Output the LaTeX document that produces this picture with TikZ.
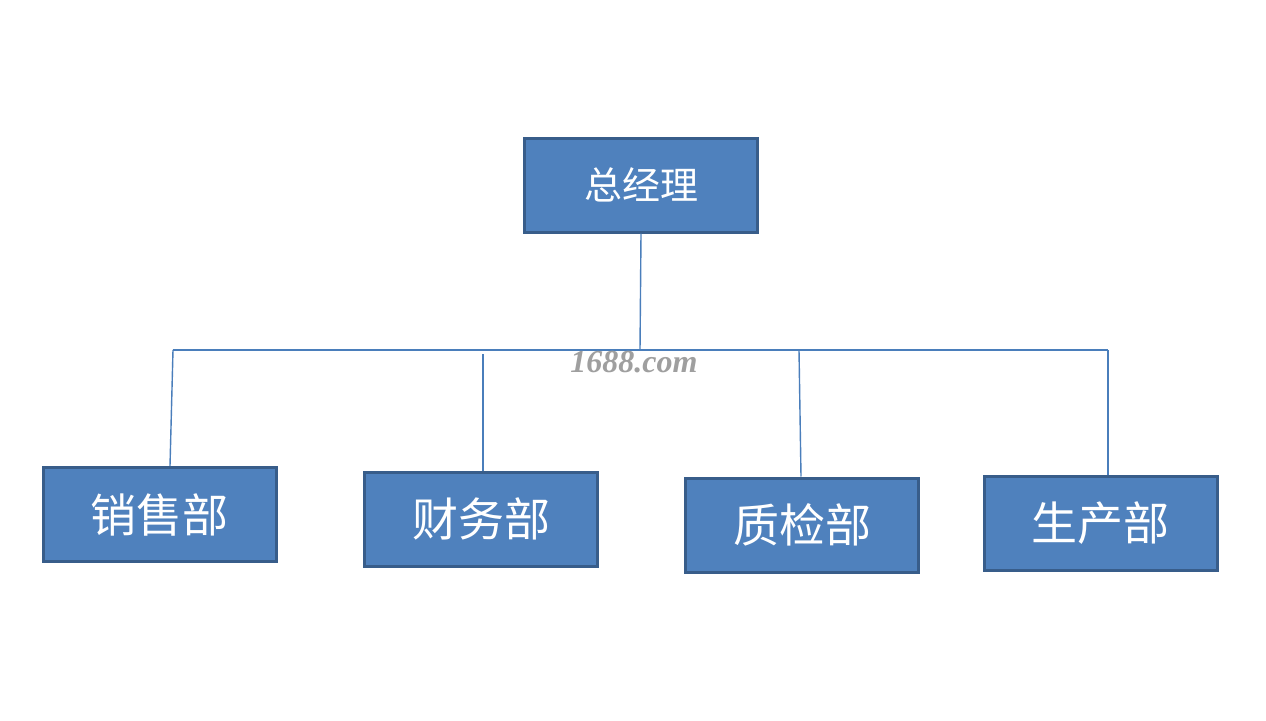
\documentclass[tikz,border=0pt]{standalone}
\usepackage{fontspec}
\newfontfamily\cjk{Noto Sans CJK SC}
\newfontfamily\wm{Liberation Serif}
\definecolor{boxfill}{HTML}{4F81BD}
\definecolor{boxline}{HTML}{385D8A}
\definecolor{conn}{HTML}{4A7EBB}
\begin{document}
\begin{tikzpicture}[x=1pt,y=-1pt,
  orgbox/.style={draw=boxline,line width=3pt,fill=boxfill,minimum width=233pt,minimum height=94pt,inner sep=0pt,text=white,font=\cjk\fontsize{46}{50}\selectfont},
  topbox/.style={orgbox,font=\cjk\fontsize{38}{42}\selectfont},
  link/.style={draw=conn,line width=1.4pt}]
\fill[white] (0,0) rectangle (1266,720);
\useasboundingbox (0,0) rectangle (1266,720);
\node[topbox] (gm) at (641,185) {总经理};
\node[orgbox] (xs) at (159.5,514.5) {销售部};
\node[orgbox] (cw) at (481,519) {财务部};
\node[orgbox] (zj) at (802,525) {质检部};
\node[orgbox] (sc) at (1100.5,523) {生产部};
\coordinate (hl) at (173,350);
\coordinate (hr) at (1108,350);
\coordinate (hm) at (640,350);
\coordinate (h2) at (483,354);
\coordinate (h3) at (799,350);
\draw[link] (hl) -- (hr);
\draw[link] (gm.south) -- (hm);
\draw[link] (hl) -- (xs.north -| 170,0);
\draw[link] (h2) -- (cw.north -| h2);
\draw[link] (h3) -- (zj.north -| 801,0);
\draw[link] (hr) -- (sc.north -| hr);
\node[text=gray!75,font=\wm\bfseries\itshape\fontsize{32}{34}\selectfont] (mark) at (634,362) {1688.com};
\end{tikzpicture}
\end{document}
